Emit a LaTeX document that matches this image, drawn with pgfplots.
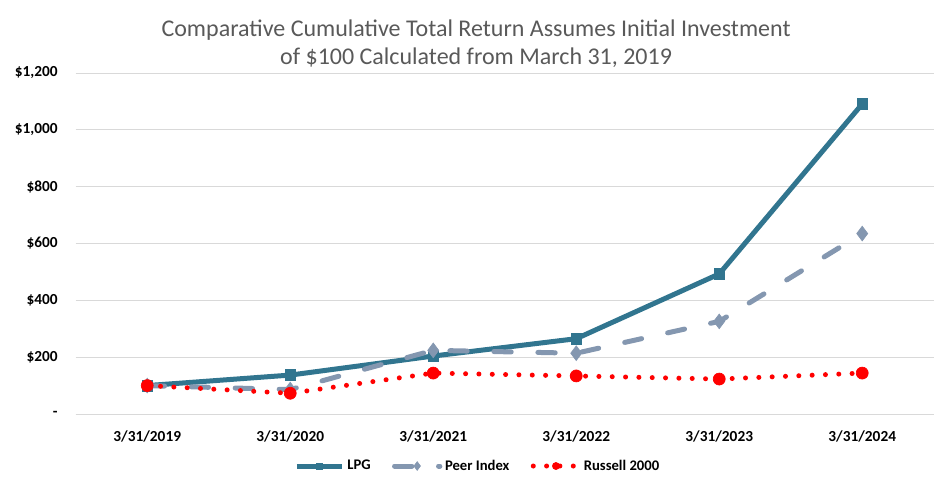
\documentclass[border=0pt]{standalone}
\usepackage{fontspec}
\setmainfont{Carlito}
\usepackage{pgfplots}
\pgfplotsset{compat=1.18}

\definecolor{lpgc}{HTML}{31758F}
\definecolor{peerc}{HTML}{8497B0}
\definecolor{gridc}{HTML}{D9D9D9}
\definecolor{titlec}{HTML}{595959}

\begin{document}
\begin{tikzpicture}
\useasboundingbox (0,0) rectangle (713.25pt,-370.5pt);
\begin{axis}[
  at={(56.8pt,-310.5pt)}, anchor=south west,
  scale only axis,
  width=643.5pt, height=255.75pt,
  xmin=-0.5, xmax=5.5,
  ymin=0, ymax=1200,
  axis x line*=bottom, axis y line*=left,
  x axis line style={draw=gridc, line width=0.75pt},
  y axis line style={draw=none},
  xtick={0,...,5},
  xticklabels={3/31/2019,3/31/2020,3/31/2021,3/31/2022,3/31/2023,3/31/2024},
  major x tick style={draw=none},
  extra x ticks={-0.5,0.5,1.5,2.5,3.5,4.5,5.5},
  extra x tick labels={},
  extra x tick style={tick style={draw=gridc, line width=0.75pt}, tick align=outside, major tick length=3pt, grid=none},
  ytick={0,200,...,1200},
  yticklabels={-,\$200,\$400,\$600,\$800,\$1{,}000,\$1{,}200},
  ytick style={draw=none},
  ymajorgrids,
  grid style={draw=gridc, line width=0.75pt},
  tick label style={font=\fontsize{11.5}{13}\selectfont\bfseries, text=black},
  xticklabel style={yshift=-9pt},
  yticklabel style={xshift=-10pt},
  /pgf/number format/assume math mode=true,
  title={Comparative Cumulative Total Return Assumes Initial Investment\\of \$100 Calculated from March 31, 2019},
  title style={at={(0.4666,1.062)}, anchor=center, align=center,
    font=\fontsize{18}{21}\selectfont, text=titlec},
  legend style={at={(0.469,-0.1525)}, anchor=center, draw=none,
    font=\fontsize{11}{13}\selectfont\bfseries, legend columns=-1,
    /tikz/every even column/.append style={column sep=14pt}},
  legend image code/.code={\draw[mark repeat=2,mark phase=2,#1,
      mark options={solid, line width=0.4pt, scale=0.6}]
      plot coordinates {(0pt,0pt)(17pt,0pt)(34pt,0pt)};},
]
\addplot[lpgc, line width=3.75pt, mark=square*, mark size=4pt, mark options={solid, line width=0.5pt}]
  coordinates {(0,100)(1,137)(2,204)(3,265)(4,493)(5,1091)};
\addlegendentry{LPG}
\addplot[peerc, line width=3.75pt, line cap=round, dash pattern=on 13pt off 20pt, mark=diamond*, mark size=5.5pt, mark options={solid, line width=0.5pt}]
  coordinates {(0,100)(1,86)(2,224)(3,214)(4,326)(5,635)};
\addlegendentry{Peer Index}
\addplot[red, line width=3.75pt, line cap=round, dash pattern=on 0pt off 10pt, mark=*, mark size=4.5pt, mark options={solid, line width=0.5pt}]
  coordinates {(0,100)(1,73)(2,144)(3,134)(4,123)(5,144)};
\addlegendentry{Russell 2000}
\end{axis}
\end{tikzpicture}
\end{document}
